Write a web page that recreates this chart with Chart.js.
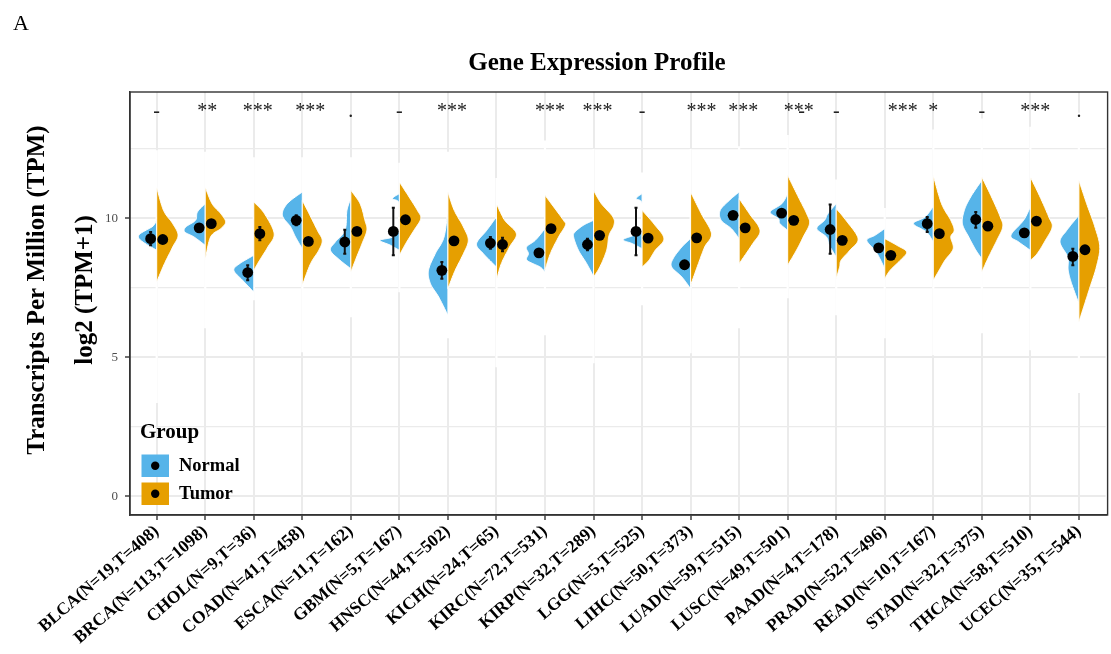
<!DOCTYPE html>
<html>
<head>
<meta charset="utf-8">
<script src="https://cdn.jsdelivr.net/npm/chart.js@4.4.1/dist/chart.umd.min.js"></script>
<style>
html,body{margin:0;padding:0;background:#ffffff;}
#wrap{width:1111px;height:654px;position:relative;}
</style>
</head>
<body>
<div id="wrap"><canvas id="c" width="1111" height="654"></canvas></div>
<script>
// ---------------- data ----------------
const categories = ['BLCA(N=19,T=408)','BRCA(N=113,T=1098)','CHOL(N=9,T=36)','COAD(N=41,T=458)','ESCA(N=11,T=162)',
  'GBM(N=5,T=167)','HNSC(N=44,T=502)','KICH(N=24,T=65)','KIRC(N=72,T=531)','KIRP(N=32,T=289)',
  'LGG(N=5,T=525)','LIHC(N=50,T=373)','LUAD(N=59,T=515)','LUSC(N=49,T=501)','PAAD(N=4,T=178)',
  'PRAD(N=52,T=496)','READ(N=10,T=167)','STAD(N=32,T=375)','THCA(N=58,T=510)','UCEC(N=35,T=544)'];

const sigLabels = ['-','**','***','***','.','-','***','','***','***','-','***','***','***','-','***','*','-','***','.'];

const normalMean = [9.27,9.66,8.05,9.93,9.15,9.53,8.13,9.11,8.76,9.06,9.53,8.33,10.11,10.19,9.60,8.94,9.81,9.96,9.48,8.63];
const normalLow  = [9.03,9.58,7.77,9.75,8.73,8.67,7.83,8.91,8.70,8.85,8.67,8.27,10.05,10.13,8.73,8.88,9.51,9.66,9.42,8.31];
const normalHigh = [9.51,9.74,8.31,10.11,9.59,10.38,8.43,9.33,8.82,9.27,10.38,8.39,10.17,10.25,10.50,9.00,10.05,10.23,9.54,8.91];

const tumorMean = [9.24,9.81,9.45,9.17,9.53,9.95,9.19,9.06,9.63,9.39,9.29,9.30,9.66,9.93,9.21,8.67,9.45,9.72,9.90,8.87];
const tumorLow  = [9.20,9.78,9.21,9.13,9.48,9.90,9.15,8.82,9.60,9.35,9.24,9.26,9.62,9.90,9.16,8.63,9.40,9.68,9.86,8.83];
const tumorHigh = [9.28,9.84,9.69,9.21,9.58,10.00,9.23,9.30,9.66,9.43,9.34,9.34,9.70,9.96,9.26,8.71,9.50,9.76,9.94,8.91];

// data range of each category (thin violin tails along the centre)
const tailHigh = [12.45,12.4,12.2,12.2,12.2,12.0,12.4,11.45,12.8,12.5,11.65,12.5,12.6,13.0,11.4,10.37,13.2,13.6,13.3,13.8];
const tailLow  = [3.35,6.04,7.05,5.18,6.44,7.34,5.68,4.64,5.79,4.78,6.87,5.14,6.04,7.12,6.51,5.68,5.07,5.86,5.25,3.71];

// density profiles: [log2(TPM+1), half-width in category units]
const normalDensity = [
  [[10.11,0],[9.75,0.06],[9.33,0.38],[8.85,0]],
  [[10.53,0],[10.23,0.16],[9.93,0.2],[9.69,0.40],[9.51,0.42],[9.33,0.23],[9.03,0]],
  [[8.67,0],[8.37,0.29],[8.13,0.41],[7.77,0.23],[7.35,0]],
  [[10.95,0],[10.53,0.31],[10.11,0.41],[9.69,0.24],[9.33,0.14],[8.91,0]],
  [[10.71,0],[10.29,0.08],[9.57,0.12],[9.15,0.32],[8.85,0.42],[8.49,0.22],[8.19,0]],
  [[10.89,0],[10.71,0.14],[10.53,0],[9.63,0],[9.33,0.14],[9.21,0.40],[9.03,0.18],[8.85,0]],
  [[10.35,0],[9.33,0.08],[8.73,0.26],[8.13,0.40],[7.65,0.36],[7.17,0.19],[6.51,0]],
  [[10.05,0],[9.57,0.2],[9.09,0.41],[8.73,0.27],[8.25,0]],
  [[9.63,0],[9.21,0.2],[8.97,0.38],[8.73,0.34],[8.49,0.37],[8.25,0.1],[8.07,0]],
  [[9.93,0],[9.75,0.21],[9.51,0.38],[9.33,0.41],[8.85,0.31],[8.37,0.14],[7.91,0]],
  [[10.89,0],[10.71,0.12],[10.53,0],[9.57,0],[9.39,0.17],[9.23,0.39],[9.09,0.2],[8.91,0]],
  [[9.27,0],[8.97,0.18],[8.55,0.36],[8.25,0.39],[7.89,0.18],[7.47,0]],
  [[10.95,0],[10.65,0.2],[10.29,0.39],[9.93,0.37],[9.63,0.16],[9.27,0]],
  [[10.89,0],[10.53,0.12],[10.23,0.36],[9.99,0.19],[9.81,0.16],[9.57,0]],
  [[10.53,0],[10.17,0.17],[9.93,0.24],[9.63,0.40],[9.33,0.2],[9.03,0.14],[8.61,0]],
  [[9.63,0],[9.39,0.2],[9.21,0.37],[8.85,0.2],[8.55,0.1],[8.19,0]],
  [[10.43,0],[10.05,0.17],[9.81,0.41],[9.51,0.14],[9.15,0]],
  [[11.37,0],[10.77,0.23],[10.29,0.36],[9.81,0.40],[9.33,0.27],[8.85,0.12],[8.55,0]],
  [[10.41,0],[9.93,0.14],[9.39,0.40],[9.15,0.24],[8.85,0]],
  [[10.11,0],[9.57,0.25],[9.15,0.39],[8.61,0.23],[8.13,0.22],[7.65,0.15],[6.93,0]]
];
const tumorDensity = [
  [[11.13,0],[10.29,0.14],[9.81,0.33],[9.39,0.44],[8.97,0.33],[8.37,0.16],[7.71,0]],
  [[11.13,0],[10.53,0.14],[10.17,0.32],[9.87,0.42],[9.63,0.32],[9.33,0.11],[8.49,0]],
  [[10.59,0],[10.17,0.22],[9.45,0.42],[8.97,0.29],[8.49,0.12],[8.13,0]],
  [[10.65,0],[10.17,0.14],[9.57,0.31],[9.21,0.41],[8.85,0.34],[8.37,0.17],[7.59,0]],
  [[11.01,0],[10.53,0.19],[9.93,0.29],[9.57,0.33],[9.09,0.23],[8.61,0.12],[8.07,0]],
  [[11.31,0],[10.77,0.2],[10.29,0.37],[9.99,0.44],[9.57,0.3],[9.09,0.13],[8.67,0]],
  [[10.95,0],[10.29,0.13],[9.69,0.32],[9.21,0.42],[8.73,0.32],[8.13,0.15],[7.47,0]],
  [[10.53,0],[9.93,0.17],[9.45,0.41],[8.97,0.27],[8.37,0.1],[7.77,0]],
  [[10.83,0],[10.41,0.18],[9.93,0.38],[9.75,0.42],[9.33,0.28],[8.73,0.11],[8.13,0]],
  [[11.01,0],[10.53,0.16],[10.05,0.40],[9.75,0.42],[9.39,0.32],[8.85,0.27],[8.25,0.13],[7.89,0]],
  [[10.29,0],[9.81,0.24],[9.27,0.45],[8.85,0.27],[8.49,0.14],[8.25,0]],
  [[10.95,0],[10.17,0.22],[9.45,0.43],[8.97,0.29],[8.37,0.16],[7.59,0]],
  [[10.71,0],[10.17,0.21],[9.57,0.43],[9.09,0.28],[8.37,0]],
  [[11.55,0],[10.77,0.22],[10.17,0.39],[9.81,0.45],[9.33,0.32],[8.85,0.18],[8.31,0]],
  [[10.35,0],[9.93,0.2],[9.27,0.45],[8.85,0.28],[8.49,0.1],[8.25,0.07],[7.83,0]],
  [[9.27,0],[9.03,0.25],[8.79,0.45],[8.49,0.32],[8.13,0.11],[7.83,0]],
  [[11.55,0],[10.53,0.17],[9.93,0.36],[9.57,0.43],[9.33,0.36],[8.91,0.41],[8.49,0.24],[8.13,0.12],[7.77,0]],
  [[11.49,0],[10.77,0.2],[10.05,0.38],[9.69,0.43],[9.21,0.31],[8.61,0.14],[8.07,0]],
  [[11.49,0],[10.77,0.2],[10.05,0.38],[9.69,0.45],[9.21,0.31],[8.73,0.14],[8.49,0]],
  [[11.37,0],[10.53,0.16],[9.69,0.33],[8.97,0.43],[8.25,0.36],[7.53,0.23],[6.93,0.12],[6.27,0]]
];

const yTickValues = [0,5,10];
const yTickLabels = ['0','5','10'];
const yMinorValues = [2.5,7.5,12.5];
const groups = ['Normal','Tumor'];

// ---------------- style ----------------
const SERIF = '"Liberation Serif","Times New Roman","DejaVu Serif",serif';
const BLUE = '#56B4E9', ORANGE = '#E69F00';
const DODGE = 0.125;
const sigNudgePx = {1:2,2:4,3:8,6:4,8:5,9:4,11:11,12:4,13:11,15:18,18:5};

const allGrid = yTickValues.concat(yMinorValues).sort((a,b)=>a-b);

function halfViolin(ctx, cx, unit, ys, knots, side){
  const pts = knots.map(k => [ys.getPixelForValue(k[0]), k[1]*unit]);
  const n = pts.length, out = [];
  const cr = (a,b,c,d,t)=>{const t2=t*t,t3=t2*t;return 0.5*((2*b)+(-a+c)*t+(2*a-5*b+4*c-d)*t2+(-a+3*b-3*c+d)*t3);};
  for(let i=0;i<n-1;i++){
    const p0=pts[Math.max(i-1,0)],p1=pts[i],p2=pts[i+1],p3=pts[Math.min(i+2,n-1)];
    for(let s=0;s<14;s++){
      const t=s/14;
      out.push([cr(p0[0],p1[0],p2[0],p3[0],t), Math.max(0,cr(p0[1],p1[1],p2[1],p3[1],t))]);
    }
  }
  out.push(pts[n-1]);
  ctx.beginPath();
  ctx.moveTo(cx, out[0][0]);
  out.forEach(p=>ctx.lineTo(cx+side*p[1], p[0]));
  ctx.lineTo(cx, out[out.length-1][0]);
  ctx.closePath();
}

const violinPlugin = {
  id:'violins',
  beforeDatasetsDraw(chart){
    const {ctx, chartArea:a, scales:{x:xs, y:ys}} = chart;
    const unit = xs.getPixelForValue(1)-xs.getPixelForValue(0);
    ctx.save();
    ctx.beginPath(); ctx.rect(a.left,a.top,a.right-a.left,a.bottom-a.top); ctx.clip();
    // tails
    ctx.strokeStyle='#ffffff'; ctx.lineWidth=2.2;
    categories.forEach((c,i)=>{
      const x=xs.getPixelForValue(i);
      ctx.beginPath(); ctx.moveTo(x, ys.getPixelForValue(tailHigh[i])); ctx.lineTo(x, ys.getPixelForValue(tailLow[i])); ctx.stroke();
    });
    // violins
    categories.forEach((c,i)=>{
      const x=xs.getPixelForValue(i);
      [[normalDensity[i],-1,BLUE],[tumorDensity[i],1,ORANGE]].forEach(([k,side,col])=>{
        halfViolin(ctx,x,unit,ys,k,side);
        ctx.fillStyle=col; ctx.fill();
        ctx.strokeStyle='#ffffff'; ctx.lineWidth=1; ctx.stroke();
      });
    });
    // error bars
    ctx.strokeStyle='#111111'; ctx.lineWidth=2;
    categories.forEach((c,i)=>{
      [[i-DODGE,normalLow[i],normalHigh[i]],[i+DODGE,tumorLow[i],tumorHigh[i]]].forEach(([xv,lo,hi])=>{
        const x=xs.getPixelForValue(xv);
        ctx.beginPath(); ctx.moveTo(x,ys.getPixelForValue(hi)); ctx.lineTo(x,ys.getPixelForValue(lo)); ctx.stroke();
        ctx.beginPath(); ctx.moveTo(x-1.5,ys.getPixelForValue(hi)); ctx.lineTo(x+1.5,ys.getPixelForValue(hi));
        ctx.moveTo(x-1.5,ys.getPixelForValue(lo)); ctx.lineTo(x+1.5,ys.getPixelForValue(lo)); ctx.stroke();
      });
    });
    ctx.restore();
  },
  afterDraw(chart){
    const {ctx, chartArea:a, scales:{x:xs, y:ys}} = chart;
    ctx.save();
    // panel border
    ctx.strokeStyle='#333333'; ctx.lineWidth=1.4;
    ctx.strokeRect(a.left, a.top, a.right-a.left+2, a.bottom-a.top);
    // significance labels
    ctx.fillStyle='#222222'; ctx.font='20px '+SERIF; ctx.textAlign='center'; ctx.textBaseline='alphabetic';
    sigLabels.forEach((s,i)=>{
      if(!s) return;
      const x=xs.getPixelForValue(i)+(sigNudgePx[i]||0);
      ctx.fillText(s, x, 117);
    });
    ctx.fillText('-', xs.getPixelForValue(13)+14, 117);
    // title
    ctx.fillStyle='#000000'; ctx.font='bold 25px '+SERIF; ctx.textAlign='center';
    ctx.fillText('Gene Expression Profile', 597, 70);
    // panel letter
    ctx.font='22px '+SERIF; ctx.textAlign='left';
    ctx.fillText('A', 13, 30);
    // y titles
    ctx.font='bold 25px '+SERIF; ctx.textAlign='center';
    [['Transcripts Per Million (TPM)',44],['log2 (TPM+1)',92]].forEach(([t,bx])=>{
      ctx.save(); ctx.translate(bx,290); ctx.rotate(-Math.PI/2); ctx.fillText(t,0,0); ctx.restore();
    });
    // legend
    ctx.textAlign='left'; ctx.font='bold 21px '+SERIF; ctx.fillStyle='#000';
    ctx.fillText('Group', 140, 438);
    [[BLUE,454.5,groups[0]],[ORANGE,482.5,groups[1]]].forEach(([col,top,lab])=>{
      ctx.fillStyle=col; ctx.fillRect(141.5, top, 27.5, 22.5);
      ctx.fillStyle='#000'; ctx.beginPath(); ctx.arc(155.2, top+11.2, 4.2, 0, Math.PI*2); ctx.fill();
      ctx.font='bold 18.5px '+SERIF; ctx.textBaseline='middle';
      ctx.fillText(lab, 179, top+11.5);
      ctx.textBaseline='alphabetic';
    });
    ctx.restore();
  }
};

new Chart(document.getElementById('c'), {
  type:'scatter',
  data:{
    datasets:[
      {label:groups[0], data:normalMean.map((v,i)=>({x:i-DODGE,y:v})), pointRadius:5.4, pointBackgroundColor:'#000', pointBorderWidth:0, pointHoverRadius:5.4},
      {label:groups[1], data:tumorMean.map((v,i)=>({x:i+DODGE,y:v})), pointRadius:5.4, pointBackgroundColor:'#000', pointBorderWidth:0, pointHoverRadius:5.4}
    ]
  },
  options:{
    responsive:false, animation:false, devicePixelRatio:1,
    events:[],
    layout:{padding:{left:0,top:92,right:1,bottom:0}},
    plugins:{legend:{display:false}, tooltip:{enabled:false}, title:{display:false}},
    scales:{
      x:{
        type:'linear', min:-0.55, max:categories.length-0.45,
        afterBuildTicks:s=>{ s.ticks = categories.map((c,i)=>({value:i})); },
        afterFit:s=>{ s.height = 139; },
        ticks:{ autoSkip:false, minRotation:41, maxRotation:41, padding:1, color:'#000',
          font:{family:SERIF, size:17.5, weight:'bold'}, callback:v=>categories[v] },
        grid:{ color:'#ebebeb', lineWidth:2, tickColor:'#333', tickLength:5, tickWidth:1.4 },
        border:{ display:true, color:'#333', width:1.4 }
      },
      y:{
        type:'linear', min:-0.68, max:14.55,
        afterBuildTicks:s=>{ s.ticks = allGrid.map(v=>({value:v})); },
        afterFit:s=>{ s.width = 130; },
        ticks:{ color:'#4d4d4d', padding:7, font:{family:SERIF, size:13},
          callback:v=>{ const k=yTickValues.indexOf(v); return k>=0 ? yTickLabels[k] : ''; } },
        grid:{ color:'#ebebeb',
          lineWidth:c=> (c.tick && yTickValues.includes(c.tick.value)) ? 2 : 1.2,
          tickColor:c=> (c.tick && yTickValues.includes(c.tick.value)) ? '#333' : 'rgba(0,0,0,0)',
          tickLength:5, tickWidth:1.4 },
        border:{ display:true, color:'#333', width:1.4 }
      }
    }
  },
  plugins:[violinPlugin]
});
</script>
</body>
</html>
